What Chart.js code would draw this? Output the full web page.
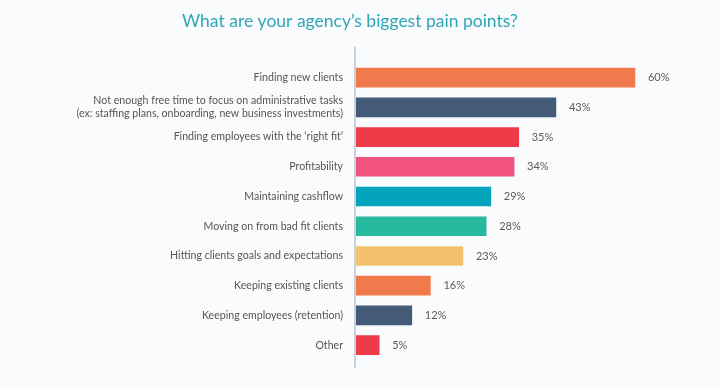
<!DOCTYPE html>
<html>
<head>
<meta charset="utf-8">
<script src="https://cdn.jsdelivr.net/npm/chart.js@4"></script>
<style>
  html, body { margin: 0; padding: 0; background: #f9fbfd; }
  #wrap { width: 720px; height: 390px; }
</style>
</head>
<body>
<div id="wrap"><canvas id="painChart" width="720" height="390"></canvas></div>
<script>
// 차트 데이터
const categories = [
    'Finding new clients',
    ['Not enough free time to focus on administrative tasks', '(ex: staffing plans, onboarding, new business investments)'],
    'Finding employees with the \u2018right fit\u2019',
    'Profitability',
    'Maintaining cashflow',
    'Moving on from bad fit clients',
    'Hitting clients goals and expectations',
    'Keeping existing clients',
    'Keeping employees (retention)',
    'Other'
];
const values = [60, 43, 35, 34, 29, 28, 23, 16, 12, 5];
const barColors = ['#f07a4b', '#435b77', '#ef3a4a', '#f0547f', '#05a4bd', '#26b99d', '#f4c16c', '#f07a4b', '#435b77', '#ef3a4a'];

// 축선 (영역 밖으로 조금 더 길게)
const axisLine = {
    id: 'axisLine',
    beforeDatasetsDraw(chart) {
        const c = chart.ctx, a = chart.chartArea;
        c.save();
        c.strokeStyle = '#c9d3de';
        c.lineWidth = 2;
        c.beginPath();
        c.moveTo(a.left - 1, a.top - 16);
        c.lineTo(a.left - 1, a.bottom + 8);
        c.stroke();
        c.restore();
    }
};

// 막대 끝 퍼센트 표시
const valueLabels = {
    id: 'valueLabels',
    afterDatasetsDraw(chart) {
        const c = chart.ctx;
        const meta = chart.getDatasetMeta(0);
        c.save();
        c.font = '11px Lato';
        c.fillStyle = '#5a5a5a';
        c.textBaseline = 'middle';
        meta.data.forEach(function(bar, i) {
            c.fillText(values[i] + '%', bar.x + 13, bar.y);
        });
        c.restore();
    }
};

const ctx = document.getElementById('painChart').getContext('2d');
const chart = new Chart(ctx, {
    type: 'bar',
    data: {
        labels: categories,
        datasets: [{
            data: values,
            backgroundColor: barColors,
            barThickness: 19,
        }]
    },
    options: {
        indexAxis: 'y',
        responsive: false,
        animation: false,
        layout: {
            padding: { left: 0, right: 20, top: 0, bottom: 30 }
        },
        scales: {
            x: {
                display: false,
                min: 0,
                max: 74,
            },
            y: {
                grid: { display: false },
                border: { display: false },
                ticks: {
                    color: '#555',
                    padding: 5,
                    font: { family: 'Lato', size: 10.6, lineHeight: 1.22 },
                },
                afterFit(scale) {
                    scale.width = 356;
                }
            }
        },
        plugins: {
            legend: { display: false },
            tooltip: { enabled: false },
            title: {
                display: true,
                text: 'What are your agency\u2019s biggest pain points?',
                color: '#2fa6b6',
                font: { family: 'Lato', size: 17.5, weight: 'normal', lineHeight: 1.3 },
                padding: { top: 10, bottom: 30 },
            }
        }
    },
    plugins: [axisLine, valueLabels]
});
</script>
</body>
</html>
